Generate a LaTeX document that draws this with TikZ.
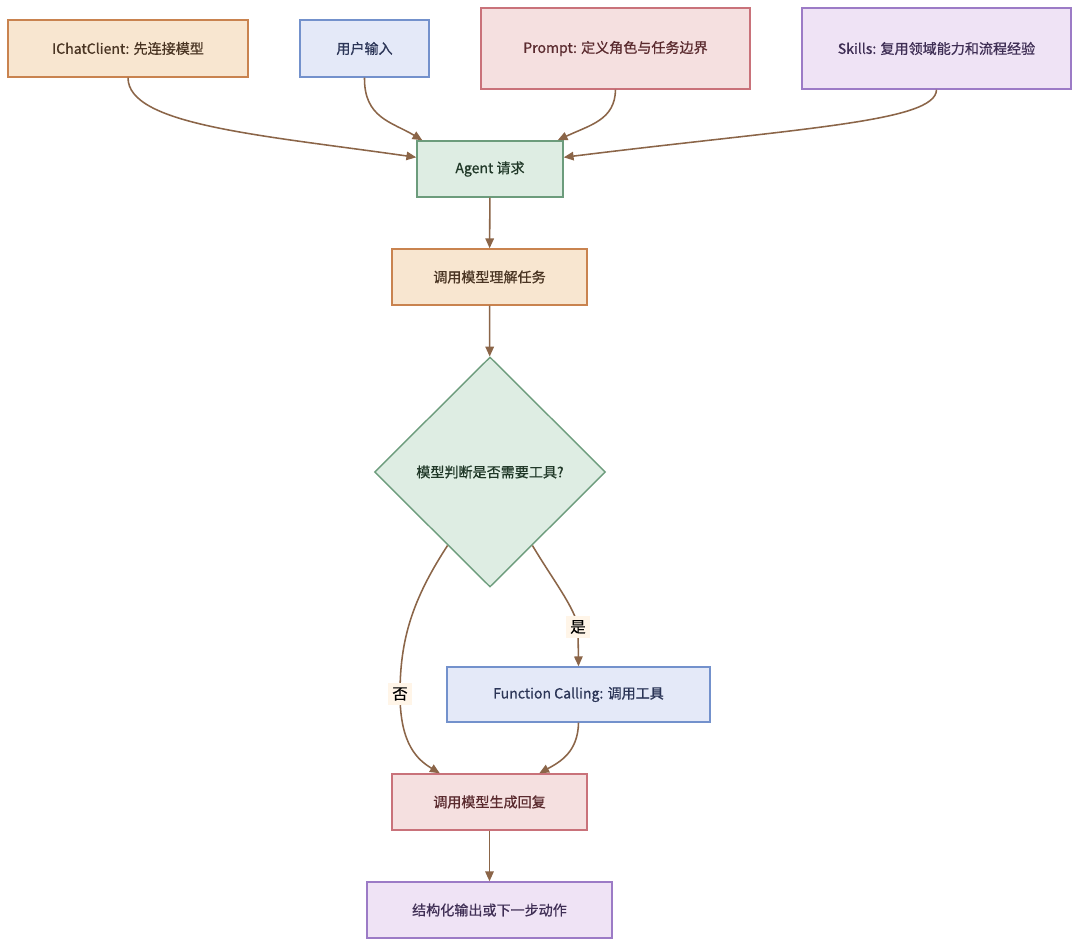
\documentclass[tikz,border=0pt]{standalone}
\usepackage{fontspec}
\setmainfont{Noto Sans CJK SC}[FakeBold=0.7]
\usetikzlibrary{shapes.geometric,arrows.meta}

\definecolor{orgfill}{HTML}{F8E6D0}
\definecolor{orgline}{HTML}{C9834F}
\definecolor{orgtext}{HTML}{4A3523}
\definecolor{bluefill}{HTML}{E4E9F8}
\definecolor{blueline}{HTML}{7391CC}
\definecolor{bluetext}{HTML}{2B3557}
\definecolor{redfill}{HTML}{F5E0E0}
\definecolor{redline}{HTML}{C9727A}
\definecolor{redtext}{HTML}{5A2A2E}
\definecolor{purfill}{HTML}{EFE3F5}
\definecolor{purline}{HTML}{9C7BC6}
\definecolor{purtext}{HTML}{3F2E55}
\definecolor{grnfill}{HTML}{DEEDE3}
\definecolor{grnline}{HTML}{6C9C7C}
\definecolor{grntext}{HTML}{203828}
\definecolor{edgecol}{HTML}{8B6548}
\definecolor{lblfill}{HTML}{FFF5E8}

\begin{document}
\begin{tikzpicture}
    [%%%%%%%%%%%%%%%%%%%%%%%%%%%%%%
        x=0.025cm,y=-0.025cm,
        box/.style={rectangle,draw,line width=1pt,inner sep=0pt,font=\fontsize{10}{12}\selectfont},
        orgbox/.style={box,fill=orgfill,draw=orgline,text=orgtext},
        bluebox/.style={box,fill=bluefill,draw=blueline,text=bluetext},
        redbox/.style={box,fill=redfill,draw=redline,text=redtext},
        purbox/.style={box,fill=purfill,draw=purline,text=purtext},
        grnbox/.style={box,fill=grnfill,draw=grnline,text=grntext},
        arr/.style={draw=edgecol,line width=1.1pt,-{Triangle[length=7pt,width=6pt]}},
        lbl/.style={fill=lblfill,inner sep=3pt,text=black,font=\fontsize{11}{13}\selectfont}
    ]%%%%%%%%%%%%%%%%%%%%%%%%%%%%%%

\useasboundingbox[fill=white] (0,0) rectangle (1080,947);

% inputs
\node[orgbox,minimum width=6cm,minimum height=1.425cm] (ichat) at (128,48.5){IChatClient: 先连接模型};
\node[bluebox,minimum width=3.225cm,minimum height=1.425cm] (user) at (364.5,48.5){用户输入};
\node[redbox,minimum width=6.725cm,minimum height=2.025cm] (prompt) at (615.5,48.5){Prompt: 定义角色与任务边界};
\node[purbox,minimum width=6.725cm,minimum height=2.025cm] (skills) at (936.5,48.5){Skills: 复用领域能力和流程经验};

% main flow
\node[grnbox,minimum width=3.65cm,minimum height=1.4cm] (agent) at (490,169){Agent 请求};
\node[orgbox,minimum width=4.875cm,minimum height=1.4cm] (understand) at (489.5,277){调用模型理解任务};
\node[grnbox,diamond,aspect=1,minimum width=5.775cm,minimum height=5.75cm] (decide) at (490,472){模型判断是否需要工具?};
\node[bluebox,minimum width=6.575cm,minimum height=1.375cm] (tool) at (578.5,694.5){Function Calling: 调用工具};
\node[redbox,minimum width=4.875cm,minimum height=1.4cm] (reply) at (489.5,802){调用模型生成回复};
\node[purbox,minimum width=6.125cm,minimum height=1.4cm] (output) at (489.5,910){结构化输出或下一步动作};

% connectors
\draw[arr] (ichat.south) .. controls (128,125) and (260,135) .. (agent.171);
\draw[arr] (user.south) .. controls (364,118) and (392,122) .. (agent.157);
\draw[arr] (prompt.south) .. controls (615,120) and (590,125) .. (agent.23);
\draw[arr] (skills.south) .. controls (936,122) and (800,128) .. (agent.9);

\draw[arr] (agent) -- (understand);
\draw[arr] (understand) -- (decide);

\draw[arr] (decide.300) .. controls (553,580) and (575,608) .. (578,627) node[lbl]{是} -- (tool.north);
\draw[arr] (decide.240) .. controls (412,600) and (400,640) .. (400,694) node[lbl]{否} .. controls (400,745) and (418,760) .. (reply.150);
\draw[arr] (tool.south) .. controls (578,752) and (560,762) .. (reply.30);

\draw[arr] (reply) -- (output);

\end{tikzpicture}
\end{document}
